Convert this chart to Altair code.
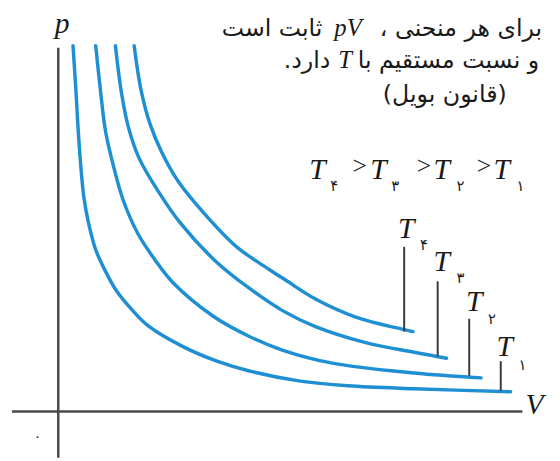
import altair as alt
import pandas as pd

# Isotherms (V and p in arbitrary units)
series = ["T1", "T2", "T3", "T4"]
V_T1 = [15, 18, 21, 26, 31, 38, 48, 58, 74, 91, 126, 161, 194, 244, 294, 361, 459]
P_T1 = [371, 324, 274, 217, 190, 164, 142, 124, 104, 87, 66, 51, 41, 31, 26, 23, 20]
V_T2 = [38, 43, 48, 56, 66, 81, 98, 116, 158, 194, 228, 278, 361, 429]
P_T2 = [371, 324, 284, 249, 214, 180, 154, 131, 96, 76, 62, 49, 39, 34]
V_T3 = [58, 64, 71, 82, 101, 124, 158, 191, 228, 261, 311, 361, 394]
P_T3 = [371, 324, 289, 257, 224, 191, 154, 127, 102, 86, 70, 60, 54]
V_T4 = [77, 84, 93, 105, 122, 148, 181, 214, 231, 261, 301, 351, 360]
P_T4 = [371, 326, 292, 263, 233, 201, 167, 144, 133, 114, 96, 83, 81]

# label markers on each curve
mark_V = [449, 417, 385, 351]
mark_top = [51, 94, 132, 167]
mark_bot = [21, 36, 56, 81]
subs = ["۱", "۲", "۳", "۴"]

rows = []
for s, vs, ps in zip(series, [V_T1, V_T2, V_T3, V_T4], [P_T1, P_T2, P_T3, P_T4]):
    for i, (v, p) in enumerate(zip(vs, ps)):
        rows.append({"series": s, "V": v, "p": p, "k": i})
curves = pd.DataFrame(rows)
markers = pd.DataFrame({"series": series, "V": mark_V, "top": mark_top, "bot": mark_bot})

xs = alt.Scale(domain=[-51, 501], nice=False, zero=False)
ys = alt.Scale(domain=[-47, 406], nice=False, zero=False)

BLUE = "#1f8fd4"
AX = "#4a4a4a"
SERIF = "Liberation Serif"
PERS = "DejaVu Sans"

lines = alt.Chart(curves).mark_line(
    color=BLUE, strokeWidth=3.5, interpolate="catmull-rom", strokeCap="round"
).encode(
    x=alt.X("V:Q", scale=xs, axis=None),
    y=alt.Y("p:Q", scale=ys, axis=None),
    detail="series:N",
    order="k:Q",
)

xaxis = alt.Chart().mark_rule(color=AX, strokeWidth=2.5).encode(
    x=alt.datum(-47, scale=xs), x2=alt.datum(471), y=alt.datum(0, scale=ys)
)
yaxis = alt.Chart().mark_rule(color=AX, strokeWidth=2.5).encode(
    x=alt.datum(0, scale=xs), y=alt.datum(-47, scale=ys), y2=alt.datum(369)
)

ticks = alt.Chart(markers).mark_rule(color="#3a3a3a", strokeWidth=2).encode(
    x=alt.X("V:Q", scale=xs), y=alt.Y("top:Q", scale=ys), y2="bot:Q"
)


def txt(s, v, p, size, font=SERIF, style="normal", align="center", color="#1a1a1a"):
    return alt.Chart().mark_text(
        text=s, fontSize=size, font=font, fontStyle=style, align=align,
        baseline="alphabetic", color=color,
    ).encode(x=alt.datum(v, scale=xs), y=alt.datum(p, scale=ys))


RLM = "\u200f"
PS = 24
texts = [
    txt("p", 4, 384, 30, style="italic"),
    txt("V", 474, -3, 30, style="italic", align="left"),
    txt("۰", -21, -30, 14, font=PERS),
    # Persian note
    txt(RLM + "برای هر منحنی ،" + RLM, 491, 381, PS, font=PERS, align="right"),
    txt("pV", 294, 381, 25, style="italic"),
    txt(RLM + "ثابت است" + RLM, 268, 381, PS, font=PERS, align="right"),
    txt(RLM + "و نسبت مستقیم با" + RLM, 488, 348, PS, font=PERS, align="right"),
    txt("T", 291, 348, 25, style="italic"),
    txt(RLM + "دارد." + RLM, 276, 348, PS, font=PERS, align="right"),
    txt(RLM + "(قانون بویل)" + RLM, 455, 314, PS, font=PERS, align="right"),
]

# ordering line  T4 > T3 > T2 > T1
order_T = [263, 325, 389, 450]
order_sub = [276, 338, 404, 465]
order_gt = [306, 371, 432]
for i, d in enumerate(["۴", "۳", "۲", "۱"]):
    texts.append(txt("T", order_T[i], 236, 30, style="italic"))
    texts.append(txt(d, order_sub[i], 224, 15, font=PERS, align="left"))
for g in order_gt:
    texts.append(txt(">", g, 241, 26))

# curve labels
lab_T = [(453, 56), (422, 102), (389, 142), (353, 176)]
lab_sub = [(467, 42), (436, 89), (404, 130), (367, 164)]
for (tv, tp), (sv, sp), d in zip(lab_T, lab_sub, subs):
    texts.append(txt("T", tv, tp, 30, style="italic"))
    texts.append(txt(d, sv, sp, 15, font=PERS, align="left"))

chart = alt.layer(lines, xaxis, yaxis, ticks, *texts).properties(
    width=552, height=453, padding=0, autosize=alt.AutoSizeParams(type="none"),
    background="white",
).configure_view(stroke=None)

chart.save("out.html", embed_options={"renderer": "svg", "actions": False})
